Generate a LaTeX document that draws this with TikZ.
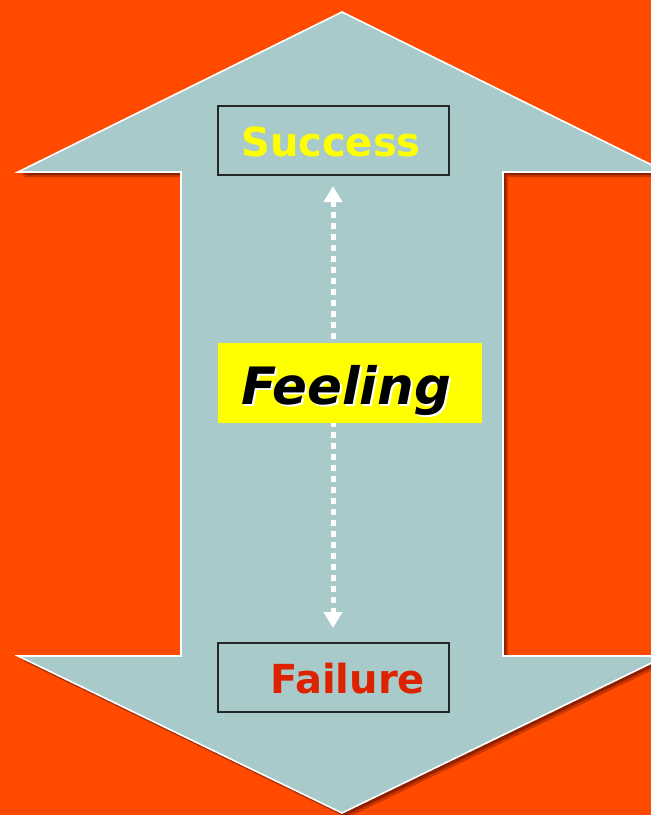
\documentclass[tikz,border=0pt]{standalone}
\usepackage{fontspec}
\setmainfont{DejaVu Sans}
\usetikzlibrary{arrows.meta}
\definecolor{bgorange}{HTML}{FF4A00}
\definecolor{arrowfill}{HTML}{A8CACA}
\definecolor{shadowred}{HTML}{6A1200}
\definecolor{failred}{HTML}{DD2200}
\definecolor{hiyellow}{HTML}{FFFF00}
\tikzset{
  labelbox/.style={draw=black!85, line width=1.6pt, minimum width=231pt, minimum height=69pt, inner sep=0pt},
  boxtext/.style={font=\fontsize{40}{46}\selectfont\bfseries, inner sep=0pt, anchor=base},
  feeltext/.style={font=\fontsize{51.5}{58}\selectfont\bfseries\itshape, inner sep=0pt, anchor=base},
  dasharrow/.style={white, line width=5pt, dash pattern=on 6pt off 5pt,
     {Triangle[width=18pt,length=16pt]}-{Triangle[width=18pt,length=16pt]}}
}
\begin{document}
\begin{tikzpicture}[x=1pt,y=-1pt]
\useasboundingbox (0,0) rectangle (651,815);
\clip (0,0) rectangle (651,815);
\fill[bgorange] (0,0) rectangle (651,815);
\def\arrowpath{(342,12) -- (18,172) -- (181,172) -- (181,656) -- (18,656) -- (342,813) -- (666,656) -- (503,656) -- (503,172) -- (666,172) -- cycle}
\fill[shadowred, opacity=0.35, shift={(5,5)}] \arrowpath;
\fill[shadowred, opacity=0.6, shift={(3,3)}] \arrowpath;
\filldraw[fill=arrowfill, draw=white, line width=1.6pt, line join=miter] \arrowpath;
\coordinate (atop) at (333,186);
\coordinate (abot) at (333,628);
\draw[dasharrow] (atop) -- (abot);
\node[labelbox] (succ) at (333.5,140.5) {};
\node[boxtext, text=hiyellow] (succtext) at (331,156) {Success};
\node[labelbox] (fail) at (333.5,677.5) {};
\node[boxtext, text=failred] (failtext) at (347.5,693) {Failure};
\node[fill=hiyellow, minimum width=264pt, minimum height=80pt, inner sep=0pt] (feel) at (350,383) {};
\node[feeltext, text=black] (feeltext) at (346,404) {\rlap{\hspace{2pt}\raisebox{-2pt}{\color{white}Feeling}}Feeling};
\end{tikzpicture}
\end{document}
